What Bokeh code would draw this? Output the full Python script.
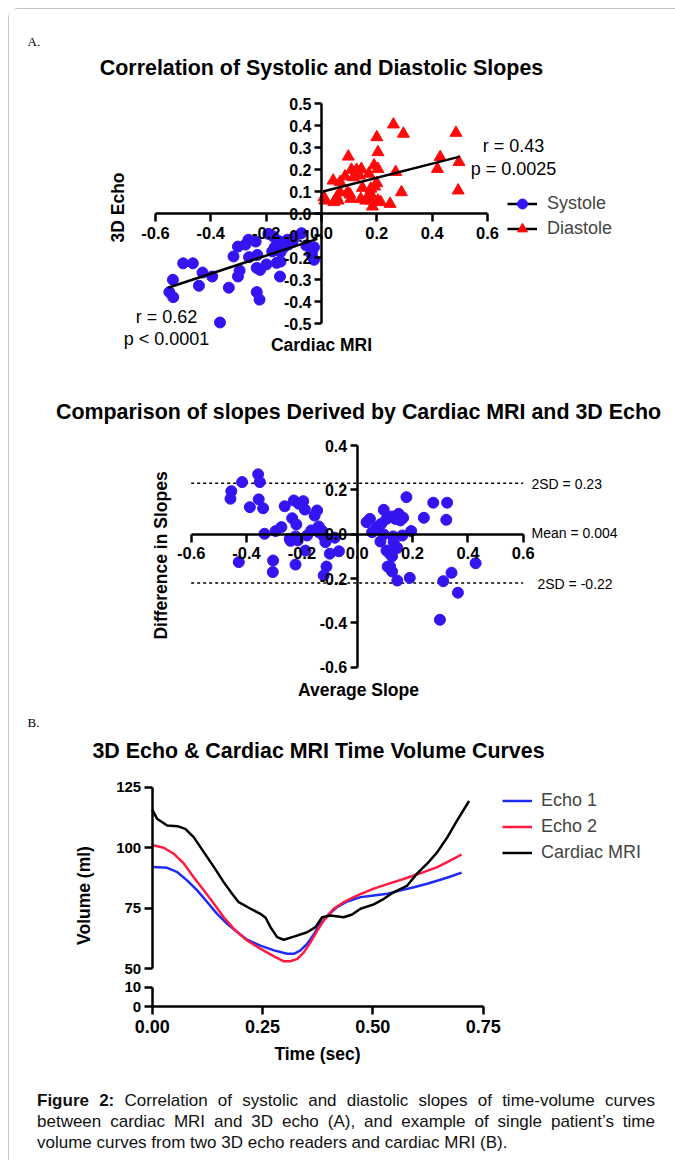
import numpy as np
from bokeh.plotting import figure
from bokeh.models import (Range1d, FixedTicker, NumeralTickFormatter, Label, Legend,
                          LegendItem, Div)
from bokeh.layouts import column
from bokeh.embed import file_html
from bokeh.resources import INLINE

# ---------------- data ----------------
# Panel A1: correlation of slopes
sys_x = [-0.50, -0.465, -0.537, -0.55, -0.536, -0.43, -0.443, -0.395, -0.335, -0.367,
         -0.318, -0.302, -0.296, -0.302, -0.264, -0.275, -0.238, -0.262, -0.232, -0.234,
         -0.222, -0.199, -0.234, -0.224, -0.192, -0.174, -0.169, -0.178, -0.156, -0.141,
         -0.123, -0.148, -0.162, -0.148, -0.150, -0.105, -0.072, -0.055, -0.035, -0.027,
         -0.136, -0.12, -0.037, -0.027, -0.10, -0.16]
sys_y = [-0.225, -0.225, -0.30, -0.356, -0.379, -0.267, -0.327, -0.285, -0.336, -0.494,
         -0.194, -0.149, -0.258, -0.285, -0.118, -0.14, -0.126, -0.197, -0.187, -0.246,
         -0.255, -0.23, -0.356, -0.39, -0.091, -0.103, -0.152, -0.171, -0.136, -0.129,
         -0.118, -0.174, -0.223, -0.217, -0.285, -0.129, -0.088, -0.144, -0.179, -0.209,
         -0.152, -0.14, -0.182, -0.152, -0.11, -0.12]
dia_x = [0.009, 0.012, 0.042, 0.055, 0.045, 0.06, 0.067, 0.067, 0.097, 0.085,
         0.094, 0.103, 0.108, 0.115, 0.106, 0.127, 0.144, 0.137, 0.142, 0.148,
         0.166, 0.171, 0.178, 0.18, 0.184, 0.19, 0.192, 0.20, 0.204, 0.204,
         0.20, 0.214, 0.204, 0.248, 0.26, 0.268, 0.289, 0.296, 0.419, 0.429,
         0.486, 0.497, 0.494, 0.178, 0.16]
dia_y = [0.075, 0.06, 0.151, 0.075, 0.053, 0.06, 0.144, 0.098, 0.26, 0.17,
         0.098, 0.088, 0.20, 0.166, 0.068, 0.20, 0.204, 0.174, 0.068, 0.118,
         0.075, 0.182, 0.114, 0.06, 0.033, 0.22, 0.124, 0.348, 0.204, 0.28,
         0.139, 0.053, 0.06, 0.045, 0.406, 0.19, 0.098, 0.364, 0.204, 0.258,
         0.368, 0.235, 0.106, 0.09, 0.06]
sys_fit_x = [-0.555, -0.015]
sys_fit_y = [-0.336, -0.114]
dia_fit_x = [0.005, 0.50]
dia_fit_y = [0.101, 0.26]
sys_stats = ["r = 0.62", "p < 0.0001"]
dia_stats = ["r = 0.43", "p = 0.0025"]
slope_ticks_x = [-0.6, -0.4, -0.2, 0.0, 0.2, 0.4, 0.6]
slope_ticks_y = [-0.5, -0.4, -0.3, -0.2, -0.1, 0.0, 0.1, 0.2, 0.3, 0.4, 0.5]

# Panel A2: Bland-Altman
ba_x = [-0.455, -0.458, -0.416, -0.358, -0.352, -0.356, -0.388, -0.34, -0.335, -0.428,
        -0.304, -0.305, -0.295, -0.274, -0.262, -0.229, -0.211, -0.195, -0.189, -0.235,
        -0.22, -0.244, -0.241, -0.223, -0.215, -0.223, -0.187, -0.181, -0.166, -0.154,
        -0.145, -0.139, -0.139, -0.126, -0.121, -0.115, -0.099, -0.081, -0.066, -0.111,
        -0.121,
        0.034, 0.046, 0.054, 0.072, 0.087, 0.096, 0.106, 0.084, 0.096, 0.106,
        0.118, 0.126, 0.11, 0.119, 0.126, 0.145, 0.126, 0.138, 0.15, 0.156,
        0.166, 0.132, 0.145, 0.163, 0.178, 0.195, 0.19, 0.241, 0.275, 0.325,
        0.322, 0.299, 0.311, 0.341, 0.364, 0.428, 0.13]
ba_y = [0.194, 0.16, 0.235, 0.27, 0.235, 0.157, 0.122, 0.117, 0.002, -0.126,
        -0.119, -0.171, 0.014, 0.032, 0.126, 0.152, 0.137, 0.149, 0.111, 0.072,
        0.044, -0.021, -0.03, -0.01, -0.028, -0.137, -0.074, -0.006, 0.017, 0.084,
        0.107, 0.035, 0.009, 0.014, -0.01, -0.036, -0.088, -0.016, -0.077, -0.146,
        -0.186,
        0.054, 0.069, 0.009, 0.032, 0.047, 0.11, 0.069, -0.033, -0.001, -0.074,
        -0.088, -0.1, -0.146, -0.146, -0.168, -0.209, 0.08, 0.069, 0.092, 0.062,
        0.074, -0.036, -0.062, -0.006, 0.167, 0.014, -0.197, 0.074, 0.142, 0.142,
        0.065, -0.386, -0.212, -0.174, -0.264, -0.131, -0.01]
sd_hi = 0.23
sd_lo = -0.22
ba_mean = 0.004
ba_labels = ["2SD = 0.23", "Mean = 0.004", "2SD = -0.22"]
ba_ticks_y = [-0.6, -0.4, -0.2, 0.0, 0.2, 0.4]

# Panel B: time-volume curves
t_e1 = [0.002, 0.034, 0.057, 0.079, 0.102, 0.125, 0.147, 0.170, 0.193, 0.215, 0.245,
        0.276, 0.306, 0.321, 0.336, 0.351, 0.366, 0.381, 0.397, 0.419, 0.442, 0.472,
        0.502, 0.533, 0.563, 0.593, 0.623, 0.653, 0.676, 0.701]
v_e1 = [92.0, 91.7, 89.9, 86.5, 82.4, 77.5, 72.7, 68.6, 65.1, 62.0, 59.6,
        57.6, 56.2, 56.2, 57.6, 60.3, 64.2, 68.6, 72.0, 75.5, 77.8, 79.6,
        80.3, 81.0, 82.4, 83.7, 85.1, 86.8, 88.1, 89.7]
t_e2 = [0.002, 0.026, 0.049, 0.072, 0.094, 0.117, 0.140, 0.162, 0.185, 0.215, 0.245,
        0.276, 0.298, 0.313, 0.329, 0.344, 0.359, 0.374, 0.389, 0.411, 0.434, 0.465,
        0.502, 0.540, 0.578, 0.615, 0.646, 0.676, 0.701]
v_e2 = [101.0, 100.0, 97.5, 93.4, 87.8, 82.4, 76.9, 71.3, 66.5, 61.7, 58.3,
        55.1, 53.1, 53.1, 54.1, 56.9, 61.0, 65.8, 70.0, 74.8, 77.5, 80.3,
        83.1, 85.4, 87.6, 89.9, 92.0, 94.8, 97.2]
t_mri = [0.000, 0.011, 0.034, 0.057, 0.075, 0.094, 0.117, 0.140, 0.162, 0.181, 0.196,
         0.223, 0.245, 0.257, 0.268, 0.283, 0.298, 0.321, 0.351, 0.370, 0.385, 0.404,
         0.434, 0.453, 0.472, 0.502, 0.525, 0.547, 0.578, 0.600, 0.623, 0.646, 0.668,
         0.691, 0.718]
v_mri = [115.7, 112.0, 109.2, 108.9, 107.8, 104.4, 98.2, 92.0, 85.8, 81.0, 77.5,
         74.8, 72.7, 71.1, 67.2, 63.1, 62.0, 63.3, 65.1, 67.2, 71.3, 72.0,
         71.3, 72.4, 74.8, 76.6, 78.9, 81.6, 84.4, 89.3, 93.4, 98.2, 104.1,
         111.3, 119.3]
series_names = ["Echo 1", "Echo 2", "Cardiac MRI"]
time_ticks = [0, 0.25, 0.5, 0.75]
vol_ticks_hi = [50, 75, 100, 125]
vol_ticks_lo = [0, 10]

titles = ["Correlation of Systolic and Diastolic Slopes",
          "Comparison of slopes Derived by Cardiac MRI and 3D Echo",
          "3D Echo & Cardiac MRI Time Volume Curves"]

caption_lead = "Figure 2:"
caption_lines = ["Correlation of systolic and diastolic slopes of time-volume curves",
                 "between cardiac MRI and 3D echo (A), and example of single patient\u2019s time",
                 "volume curves from two 3D echo readers and cardiac MRI (B)."]

# ---------------- styling / layout ----------------
OX, OY = 9, 9
FW = 675 - OX
FONT = "Liberation Sans"
SYS_BLUE = "#3414f0"
TRI_RED = "#ff0a0a"
E1_BLUE = "#1c2cf5"
E2_RED = "#ff1a40"
TITLE_SIZE = "21.4px"

PAGE_BOTTOM = {}


def new_fig(top, bottom, xpx, xval, ypx, yval):
    """Figure whose frame covers its whole area; ranges chosen so that
    xval[i] lands on page pixel xpx[i] and yval[i] on page pixel ypx[i]."""
    H = bottom - top
    sx = (xpx[1] - xpx[0]) / (xval[1] - xval[0])
    x0 = xval[0] - (xpx[0] - OX) / sx
    sy = (ypx[1] - ypx[0]) / (yval[0] - yval[1])
    y1 = yval[0] + (ypx[0] - top) / sy
    p = figure(width=FW, height=H,
               x_range=Range1d(x0, x0 + FW / sx), y_range=Range1d(y1 - H / sy, y1),
               output_backend="svg", toolbar_location=None, title_location=None,
               min_border_left=0, min_border_right=0,
               min_border_top=0, min_border_bottom=0)
    p.grid.visible = False
    p.outline_line_color = None
    p.background_fill_color = "white"
    p.border_fill_color = "white"
    PAGE_BOTTOM[id(p)] = bottom
    return p


def style_axis(ax, ticks, fmt, size, tick_out, standoff, loc, bounds):
    ax.fixed_location = loc
    ax.bounds = bounds
    ax.ticker = FixedTicker(ticks=ticks)
    ax.formatter = NumeralTickFormatter(format=fmt)
    ax.axis_line_width = 2.5
    ax.axis_line_color = "black"
    ax.major_tick_line_width = 2.5
    ax.major_tick_line_color = "black"
    ax.major_tick_out = tick_out
    ax.major_tick_in = 0
    ax.minor_tick_line_color = None
    ax.major_label_text_font = FONT
    ax.major_label_text_font_style = "bold"
    ax.major_label_text_font_size = size
    ax.major_label_text_color = "black"
    ax.major_label_standoff = standoff


def add_text(p, px, py, text, size, bold=False, angle=0.0, align="center", font=FONT):
    bottom = PAGE_BOTTOM[id(p)]
    p.add_layout(Label(x=px - OX, y=bottom - py, x_units="screen", y_units="screen",
                       text=text, text_font=font, text_font_size=size,
                       text_font_style="bold" if bold else "normal",
                       text_align=align, text_baseline="middle", angle=angle,
                       text_color="black"))


def legend_at(p, items, left, top, rows, row_h, spacing, standoff):
    bottom = PAGE_BOTTOM[id(p)]
    h = rows * row_h + (rows - 1) * spacing
    leg = Legend(items=items, location=(left - OX, bottom - (top + h)),
                 glyph_width=30, glyph_height=row_h, label_height=row_h,
                 spacing=spacing, padding=0, margin=0, label_standoff=standoff,
                 border_line_color=None, background_fill_alpha=0,
                 label_text_font=FONT, label_text_font_size="18px")
    p.add_layout(leg, "center")


# ---- Panel A1 ----
p1 = new_fig(OY, 385, (155, 487), (-0.6, 0.6), (103.3, 323.3), (0.5, -0.5))
style_axis(p1.xaxis[0], slope_ticks_x, "0.0", "16.5px", 8, 5, 0, (-0.6, 0.6))
style_axis(p1.yaxis[0], slope_ticks_y, "0.0", "16px", 7, 3, 0, (-0.5, 0.5))
sys_sc = p1.scatter(sys_x, sys_y, size=11, color=SYS_BLUE, line_color=SYS_BLUE)
dia_sc = p1.scatter(dia_x, dia_y, marker="triangle", size=12, color=TRI_RED, line_color=TRI_RED)
sys_ln = p1.line(sys_fit_x, sys_fit_y, line_width=2.5, color="black")
dia_ln = p1.line(dia_fit_x, dia_fit_y, line_width=2.5, color="black")
legend_at(p1, [LegendItem(label="Systole", renderers=[sys_ln, sys_sc]),
               LegendItem(label="Diastole", renderers=[dia_ln, dia_sc])],
          507, 190.5, 2, 25, 0, 10)
add_text(p1, 27, 41, "A.", "13px", font="Liberation Serif", align="left")
add_text(p1, 321, 67, titles[0], TITLE_SIZE, bold=True)
add_text(p1, 117, 207, "3D Echo", "17.5px", bold=True, angle=np.pi / 2)
add_text(p1, 321, 344, "Cardiac MRI", "17.5px", bold=True)
add_text(p1, 513, 145, dia_stats[0], "18px")
add_text(p1, 513, 168, dia_stats[1], "18px")
add_text(p1, 166, 316, sys_stats[0], "18px")
add_text(p1, 166, 338, sys_stats[1], "18px")

# ---- Panel A2 ----
p2 = new_fig(385, 712, (190.7, 522.7), (-0.6, 0.6), (445, 666.7), (0.4, -0.6))
style_axis(p2.xaxis[0], slope_ticks_x, "0.0", "16.5px", 8, 5, 0, (-0.6, 0.6))
style_axis(p2.yaxis[0], ba_ticks_y, "0.0", "16px", 7, 3, 0, (-0.6, 0.4))
for lvl in (sd_hi, sd_lo):
    p2.line([-0.6, 0.6], [lvl, lvl], line_color="black", line_width=1.5, line_dash="3 3")
p2.scatter(ba_x, ba_y, size=11, color=SYS_BLUE, line_color=SYS_BLUE)
add_text(p2, 358, 411, titles[1], TITLE_SIZE, bold=True)
add_text(p2, 160, 555, "Difference in Slopes", "17.5px", bold=True, angle=np.pi / 2)
add_text(p2, 358, 689, "Average Slope", "17.5px", bold=True)
add_text(p2, 531, 483, ba_labels[0], "14px", align="left")
add_text(p2, 531, 532, ba_labels[1], "14px", align="left")
add_text(p2, 537, 583, ba_labels[2], "14px", align="left")

# ---- Panel B (broken y axis: upper 50-125, lower 0-10) ----
p3 = new_fig(712, 977, (151.7, 482.7), (0, 0.75), (786.7, 968.3), (125, 50))
p3.xaxis.visible = False
style_axis(p3.yaxis[0], vol_ticks_hi, "0", "15px", 8, 3, 0, (50, 125))
l_e1 = p3.line(t_e1, v_e1, line_width=2.5, color=E1_BLUE, line_join="round")
l_e2 = p3.line(t_e2, v_e2, line_width=2.5, color=E2_RED, line_join="round")
l_mri = p3.line(t_mri, v_mri, line_width=2.5, color="black", line_join="round")
legend_at(p3, [LegendItem(label=series_names[0], renderers=[l_e1]),
               LegendItem(label=series_names[1], renderers=[l_e2]),
               LegendItem(label=series_names[2], renderers=[l_mri])],
          502, 788, 3, 25, 1, 9)
add_text(p3, 27, 722, "B.", "13px", font="Liberation Serif", align="left")
add_text(p3, 318, 750, titles[2], TITLE_SIZE, bold=True)
add_text(p3, 83, 895, "Volume (ml)", "17.5px", bold=True, angle=np.pi / 2)

p4 = new_fig(977, 1072, (151.7, 482.7), (0, 0.75), (986.7, 1006), (10, 0))
style_axis(p4.yaxis[0], vol_ticks_lo, "0", "15px", 8, 3, 0, (0, 10))
style_axis(p4.xaxis[0], time_ticks, "0.00", "18px", 8, 5, 0, (0, 0.75))
add_text(p4, 317, 1053, "Time (sec)", "17.5px", bold=True)

# caption: one block per printed line (first two justified to full width)
CAP_W = 618
JUST = f"display:block;width:{CAP_W}px;text-align:justify;text-align-last:justify;"
cap_html = (
    f'<div style="{JUST}"><b>{caption_lead}</b> <span>{caption_lines[0]}</span></div>'
    f'<div style="{JUST}">{caption_lines[1]}</div>'
    f'<div style="display:block;width:{CAP_W}px;text-align:left;">{caption_lines[2]}</div>'
)
cap = Div(text=cap_html, width=FW, height=1160 - 1072,
          styles={"font-family": FONT, "font-size": "17px", "line-height": "21px",
                  "color": "#111111",
                  "padding": "13px 25px 0px 23px", "box-sizing": "border-box"})

root = column(p1, p2, p3, p4, cap, spacing=0,
              styles={"margin-left": "8px", "margin-top": "8px",
                      "border-left": "1px solid #c4c4c4", "border-top": "1px solid #c4c4c4",
                      "border-top-left-radius": "10px"})

open("out.html", "w").write(file_html(root, INLINE))
